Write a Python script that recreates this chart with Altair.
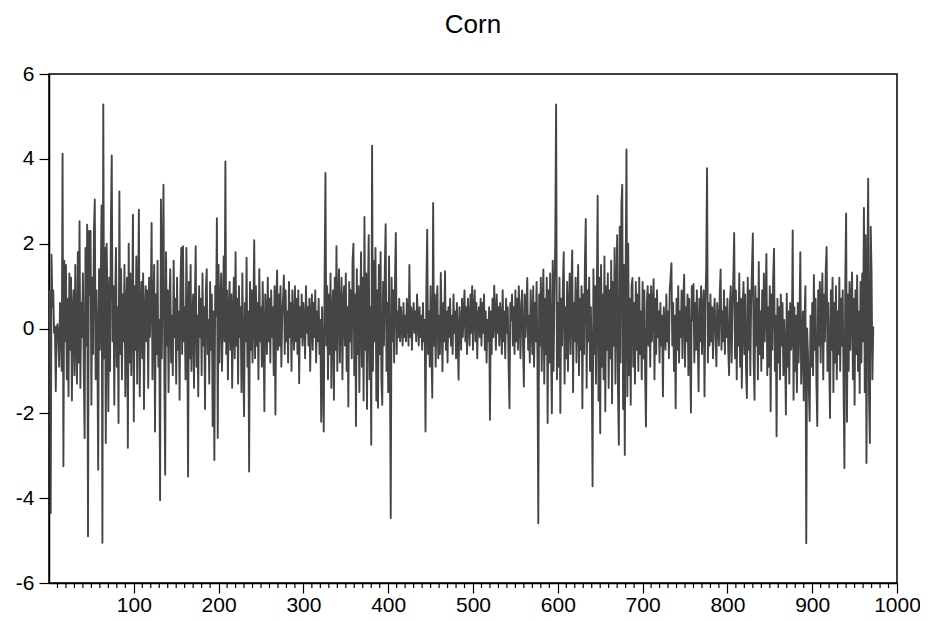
import altair as alt
import pandas as pd

# Values (index 1 .. 972)
seg_001 = [0.9, -4.35, 1.74, 0.5, 0.9, -0.1, 0.05, -1.48, 0.0, 0.1,
           -0.2, -0.9, 0.6, 0.2, -1.0, 4.12, -3.25, 1.6, -0.3, 1.5,
           -1.2, 0.7, -1.6, 1.3, -0.5, 1.2, -1.7, 0.4, 0.9, -1.1,
           1.5, -0.3, -1.3, 1.8, -0.8, 2.53, -1.4, 0.6, -0.2, 1.3,
           -1.0, -2.58, 1.9, -0.4, 2.45, -4.9, 2.3, 0.8, 2.3, -1.8,
           1.2, -0.6, 2.3, 3.04, -1.2, 0.9, -0.3, -3.33, 1.4, -0.5,
           1.1, 2.9, -5.05, 5.28, -0.7, 1.9, -2.7, 2.0, 0.5, -1.95,
           1.2, -1.0, 2.5, 4.08, -0.3, 1.0, -1.8, 0.6, 1.9, -0.9,
           0.5, -2.23, 3.23, -0.6, 1.4, -1.2, 0.8, -0.3, 1.5, -1.6,
           0.4, 1.2, -2.81, 2.0, -0.8, 1.3, -1.1, 0.3, 2.68, -2.19]
seg_101 = [1.0, -0.5, 1.7, -1.3, 0.6, 2.8, -1.6, 0.2, 1.1, -0.7,
           1.3, -1.9, 0.4, 1.0, -0.3, 0.9, -1.4, 1.2, -0.2, 0.6,
           2.49, -1.2, 0.3, 1.5, -2.43, 0.8, -0.6, 1.6, -0.9, 0.2,
           -4.05, 3.04, -0.7, 1.3, 3.39, -1.0, -3.45, 1.8, -0.4, 0.9,
           -1.5, 0.6, 1.4, -0.8, 0.3, -1.1, 1.6, -0.2, 0.7, -1.3,
           1.2, -0.5, 0.4, -1.68, 1.0, 1.9, -0.6, 1.94, -0.3, 0.5,
           -1.2, 1.9, 0.3, -3.49, 1.1, -0.7, 1.5, -1.0, 0.2, 0.8,
           -1.4, 0.6, 1.94, -0.9, 0.3, -1.6, 1.0, -0.2, 0.7, -1.1,
           1.3, -0.4, 0.5, -1.9, 0.9, 1.4, -0.6, 0.2, -1.3, 1.1,
           -0.5, 0.8, -2.3, 0.4, -3.1, 1.0, 0.3, 2.6, -2.58, 1.5]
seg_201 = [-0.8, 0.6, 1.3, -1.0, 0.2, 1.7, -0.3, 3.94, -0.6, 0.9,
           -1.2, 0.4, 1.1, -0.5, 0.8, -1.4, 0.3, 1.2, -0.7, 1.8,
           -0.4, 0.7, -1.3, 1.0, -0.2, 0.5, -1.5, 1.3, -0.6, -2.07,
           0.6, -0.3, 1.67, -0.9, 0.4, -3.37, 1.1, -0.5, 0.9, -0.8,
           0.3, 2.08, -0.7, 1.0, -0.4, 0.6, -1.2, 1.4, -0.3, 0.5,
           -0.9, 1.1, -0.2, -1.95, 0.8, 0.4, -0.6, 1.2, -0.3, 0.7,
           -0.8, 0.9, -0.2, 0.5, -1.1, 1.0, -2.03, 0.6, 1.37, -0.5,
           0.8, -0.4, 1.0, -0.9, 0.3, 0.7, 1.25, -0.6, 0.9, -0.3,
           0.4, -0.8, 1.1, -0.2, 0.6, -1.0, 0.9, 0.1, -0.5, 1.0,
           -0.3, 0.7, -0.6, 0.9, -1.29, 0.5, -0.2, 0.8, -0.4, 0.6]
seg_301 = [0.2, -0.7, 1.0, -0.1, 0.5, -0.4, 0.7, -1.0, 0.3, 0.8,
           -0.5, 0.6, -0.2, 0.9, -0.8, 0.4, -0.3, 0.7, -0.6, 0.2,
           -2.2, 0.5, -0.9, -2.43, 1.2, 3.67, -0.4, 1.0, -1.2, 0.8,
           -0.6, 1.3, -1.4, 0.4, 0.9, -1.68, 1.2, -0.5, 1.94, -1.0,
           0.7, 1.4, -0.8, 0.3, 1.2, -1.2, 0.6, 1.0, -0.4, 1.3,
           -1.0, 0.5, -1.84, 1.1, -0.3, 0.9, -0.7, 1.6, 2.0, -1.1,
           0.8, -2.3, 1.4, -0.6, 1.0, -1.5, 0.4, 1.8, -0.9, 1.2,
           -1.7, 2.63, -0.5, 1.3, -1.9, 0.7, 2.2, -1.2, 0.5, -2.74,
           4.31, -1.0, 1.6, -0.3, 1.9, -1.7, 0.9, -1.87, 1.5, -0.6,
           1.8, -1.2, -1.8, 1.1, -0.4, 1.4, 2.46, -1.0, 0.6, -1.5]
seg_401 = [1.7, -0.7, -4.47, 1.2, -0.3, 0.9, -0.8, 1.1, 2.25, -0.6,
           0.4, -0.2, 0.7, -0.3, 0.5, 0.1, -0.4, 0.6, -0.2, 0.3,
           -0.3, 0.7, 0.2, -0.4, 1.5, -0.2, 0.5, -0.5, 0.3, 0.6,
           -0.1, 0.4, -0.3, 0.8, 0.2, -0.4, 0.5, -0.2, 0.3, -0.5,
           0.6, -0.3, 0.2, -2.43, 0.9, 2.33, -0.6, 0.4, -0.9, 1.0,
           -0.5, -1.63, 2.96, -0.4, 0.8, -0.9, 0.5, 1.0, -0.7, 0.3,
           -0.6, 1.31, 0.2, -1.01, 0.6, -0.3, 1.35, -0.5, 0.4, -0.8,
           0.5, -0.2, 0.7, -0.4, 0.3, -0.6, 0.8, -0.1, 0.4, -0.7,
           0.6, -0.3, -1.21, 0.5, 0.1, -0.5, 0.7, -0.2, 0.4, 0.9,
           -0.3, 0.5, -0.6, 0.7, 0.2, -0.4, 0.8, -0.1, 1.0, -0.5]
seg_501 = [0.4, 0.9, -0.3, 0.6, -0.7, 0.3, 0.5, -0.2, 0.7, -0.4,
           0.6, -0.1, 0.8, -0.5, 0.4, -0.8, 0.2, -0.3, 0.5, -2.15,
           0.4, -0.6, 0.7, -0.2, 1.01, 0.3, -0.5, 0.8, -0.1, 0.5,
           -0.4, 0.6, 0.2, -0.6, 0.9, -0.3, 0.4, -0.7, 0.7, -0.1,
           0.5, -0.9, -1.88, 0.6, 0.2, 0.8, -0.4, 0.5, -0.6, 0.9,
           -0.3, 0.7, -0.5, 1.0, 0.2, -0.7, 0.6, 0.9, -0.4, -1.37,
           0.8, -0.2, 0.5, 1.19, -0.5, 0.3, -0.8, 0.9, 0.1, -0.6,
           1.0, -0.9, 0.6, -0.3, 1.1, -0.7, -4.59, 0.8, -0.4, 1.2,
           -1.0, 0.5, 1.39, -1.3, 0.7, -0.6, 1.2, -2.23, 0.9, -0.8,
           1.3, -0.5, -2.0, 1.6, -1.0, 0.8, 2.0, 5.28, -1.2, 0.6]
seg_601 = [-0.9, 1.2, -1.99, 0.7, -0.4, 1.0, 1.8, -1.3, 0.5, -0.7,
           1.1, -1.0, 0.4, 1.3, -0.6, 0.9, 1.84, -1.5, 0.6, -0.3,
           1.2, -0.8, 0.4, 1.5, -1.1, 0.7, -0.5, 1.0, -1.88, 0.8,
           -0.6, 1.6, 2.58, -1.4, 0.9, -0.3, 1.2, -1.0, 0.5, -0.8,
           -3.72, 1.4, -0.6, 1.0, -1.3, 0.7, 3.13, -1.7, 1.2, -2.47,
           1.5, -0.9, 0.8, -1.2, 1.7, -1.95, 1.0, -0.5, 1.3, -1.4,
           0.9, -0.7, 1.6, -1.76, 1.1, -0.4, 1.9, -1.3, 0.8, 2.2,
           -1.5, -2.74, 2.4, -0.8, 2.9, 3.39, -1.9, 1.5, -2.98, 1.2,
           4.22, -1.6, 2.0, -1.1, 0.7, -1.8, 1.0, 1.19, -0.9, 0.6,
           -1.3, 1.1, -0.5, 0.8, -1.0, 1.2, -0.6, 0.4, -1.2, 1.1]
seg_701 = [-0.7, 0.9, -1.1, -2.31, 0.6, 1.0, -0.4, 0.8, -0.9, 1.0,
           -0.3, 0.5, 1.16, -1.2, 0.7, -0.6, 0.9, -0.2, 0.4, -0.8,
           0.6, -0.4, 0.3, -1.6, 0.5, 0.1, -0.5, 0.8, -0.3, 0.4,
           -0.7, 0.9, 1.2, 1.54, -0.4, 0.6, -1.0, 0.3, -1.88, 0.7,
           -0.5, 1.0, -0.8, 0.4, -0.2, 0.9, -0.7, 0.6, 1.27, -0.9,
           0.5, -0.3, 0.8, -1.1, 0.7, -0.4, -1.98, 1.0, 0.2, 1.05,
           -0.8, 0.6, -0.5, 0.9, -0.2, -1.48, 0.7, -0.3, 1.0, -0.6,
           0.4, 0.9, -1.6, 0.5, 1.4, 3.78, -0.8, 0.6, -0.4, 0.8,
           -0.3, 0.5, -0.7, 0.3, 0.7, -0.2, -0.89, 0.6, 0.2, -0.4,
           0.8, 1.39, -0.5, 0.4, -0.3, 0.9, -0.6, 0.5, -0.2, 0.7]
seg_801 = [-0.5, -1.1, 0.6, 1.0, -0.8, 0.4, 1.2, 2.25, -0.7, 0.9,
           -1.2, 0.6, -0.4, 1.3, -0.9, 0.7, -1.4, 0.5, 1.1, -0.6,
           0.8, -1.0, -1.64, 1.2, -0.5, 0.9, -1.1, 0.6, 1.4, 2.24,
           -0.8, -1.68, 1.0, -0.4, 0.7, -1.2, 1.57, -0.6, 0.4, -1.0,
           0.9, -0.7, 1.3, -0.3, 0.6, 1.76, -1.1, 0.5, -0.9, 1.0,
           -1.95, 0.8, -0.5, 1.2, 1.88, -1.0, 0.3, -2.54, 0.7, -0.8,
           0.5, -1.2, 0.8, -0.4, 0.6, -1.1, 0.2, -0.6, -2.03, 0.82,
           -0.9, 0.4, -1.3, 0.6, -0.5, -0.3, 2.31, -1.68, 0.5, -1.0,
           0.3, -1.5, 0.6, -0.8, 0.2, 1.8, -1.3, -0.5, 0.4, -1.7,
           0.2, 1.0, -5.06, 0.0, -0.6, -1.4, -2.18, 0.3, -0.9, 0.6]
seg_901 = [-1.1, 1.26, -0.5, 0.7, -1.3, -2.3, 0.9, -0.4, 1.1, -0.8,
           0.5, 1.3, -1.2, 0.8, -0.3, 1.4, 1.92, -1.0, 0.6, -0.7,
           -2.11, 0.9, -0.5, 1.2, -1.5, 0.6, -0.8, 1.0, -1.2, 0.4,
           -0.6, 1.2, -1.0, 0.7, -0.4, 0.9, -1.4, -3.29, 1.1, 2.71,
           -2.2, 0.8, -1.0, 1.1, -0.5, 0.6, 1.32, -1.2, 0.7, -1.8,
           0.9, -0.6, 1.25, -1.0, 0.4, -1.52, 1.1, -0.8, 1.3, -0.3,
           2.84, -1.5, 2.2, -3.17, 1.0, 3.53, -1.6, -2.7, 2.4, 1.3,
           -1.2, 0.05]

series = seg_001 + seg_101 + seg_201 + seg_301 + seg_401 + seg_501 + seg_601 + seg_701 + seg_801 + seg_901
df = pd.DataFrame({"t": list(range(1, len(series) + 1)), "v": series})

x_major = [100, 200, 300, 400, 500, 600, 700, 800, 900, 1000]
x_minor = [m for m in range(10, 1000, 10) if m % 100 != 0]
y_ticks = [-6, -4, -2, 0, 2, 4, 6]

W, H = 848, 509
FONT = "Liberation Sans"

x_scale = alt.Scale(domain=[0, 1000], nice=False, zero=False)
x_axis = alt.Axis(values=x_major, title=None, grid=False, tickSize=10, labelPadding=1,
                  labelFontSize=21, labelFont=FONT, labelColor="black", domainColor="black",
                  tickColor="black", domainWidth=1.5, tickWidth=1.2, labelFlush=False,
                  labelExpr="'' + datum.value")
y_axis = alt.Axis(values=y_ticks, title=None, grid=False, tickSize=10, labelPadding=5,
                  labelFontSize=21, labelFont=FONT, labelColor="black", domainColor="black",
                  tickColor="black", domainWidth=1.5, tickWidth=1.2,
                  labelExpr="'' + datum.value")

line = alt.Chart(df).mark_line(color="#454545", strokeWidth=1.9, strokeJoin="round").encode(
    x=alt.X("t:Q", scale=x_scale, axis=x_axis),
    y=alt.Y("v:Q", scale=alt.Scale(domain=[-6, 6], nice=False), axis=y_axis),
)

minor = alt.Chart(pd.DataFrame({"m": x_minor})).mark_rule(color="black", strokeWidth=1.2).encode(
    x=alt.X("m:Q", scale=x_scale, axis=x_axis),
    y=alt.value(H),
    y2=alt.value(H + 5),
)

chart = alt.layer(line, minor).properties(
    width=W, height=H,
    background="white",
    title=alt.TitleParams(text="Corn", fontSize=26, font=FONT, fontWeight="normal",
                          color="black", anchor="middle", offset=25),
    autosize=alt.AutoSizeParams(type="none"),
    padding={"left": 41, "top": 66, "right": 23, "bottom": 31},
).configure_view(stroke="black", strokeWidth=1.5)

chart.save("out.html", embed_options={"renderer": "svg", "actions": False})
